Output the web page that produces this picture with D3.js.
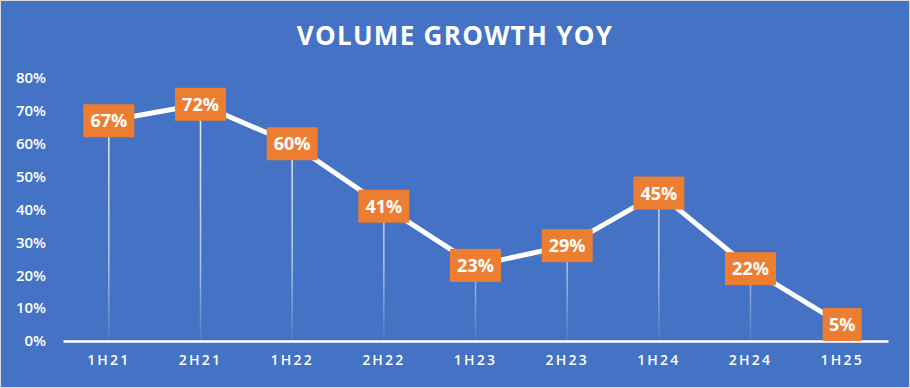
<!DOCTYPE html>
<html>
<head>
<meta charset="utf-8">
<script src="https://cdn.jsdelivr.net/npm/d3@7"></script>
<style>
	body { margin: 0; background: #fff; }
	text { font-family: "Open Sans", "Noto Sans", sans-serif; fill: #fff; }
</style>
</head>
<body>
<svg id="chart"></svg>
<script>
// DATA

var periods = ["1H21", "2H21", "1H22", "2H22", "1H23", "2H23", "1H24", "2H24", "1H25"];
var growth = [67, 72, 60, 41, 23, 29, 45, 22, 5];
var yTicks = [0, 10, 20, 30, 40, 50, 60, 70, 80];

// DIMENSIONS

var width = 910,
	height = 388,
	plotLeft = 63,
	plotRight = 888,
	plotTop = 78,
	plotBottom = 341;

var svg = d3.select("#chart")
	.attr('width', width)
	.attr('height', height);

svg.append('rect')
	.attr('x', 0.5).attr('y', 0.5)
	.attr('width', width - 1).attr('height', height - 1)
	.style('fill', '#4472c4')
	.style('stroke', '#d9d9d9');

// fading drop line
var grad = svg.append('defs').append('linearGradient')
	.attr('id', 'fade')
	.attr('gradientUnits', 'userSpaceOnUse')
	.attr('x1', 0).attr('x2', 0)
	.attr('y1', plotTop).attr('y2', plotBottom);
grad.append('stop').attr('offset', '0%').attr('stop-color', '#fff').attr('stop-opacity', 0.95);
grad.append('stop').attr('offset', '70%').attr('stop-color', '#fff').attr('stop-opacity', 0.6);
grad.append('stop').attr('offset', '100%').attr('stop-color', '#fff').attr('stop-opacity', 0.05);

// SCALES

var xScale = d3.scaleBand()
	.domain(periods)
	.range([plotLeft, plotRight]);

var yScale = d3.scaleLinear()
	.domain([0, 80])
	.range([plotBottom, plotTop]);

function cx(d) { return xScale(d) + xScale.bandwidth() / 2; }

// title
svg.append('text')
	.attr('x', width / 2)
	.attr('y', 45)
	.attr('text-anchor', 'middle')
	.style('font-size', '26px')
	.style('font-weight', 'bold')
	.style('letter-spacing', '1.3px')
	.text("VOLUME GROWTH YOY");

// y axis
var yAxis = d3.axisLeft(yScale)
	.tickValues(yTicks)
	.tickSize(0)
	.tickPadding(0)
	.tickFormat(function(d) { return d + "%"; });

var yG = svg.append('g')
	.attr('transform', 'translate(46,0)')
	.call(yAxis);
yG.select('.domain').remove();
yG.selectAll('text')
	.style('fill', '#fff')
	.style('font-size', '15px')
	.style('font-weight', '600');

// drop lines
svg.selectAll('.drop').data(growth)
	.enter().append('line')
	.attr('class', 'drop')
	.attr('x1', function(d, i) { return cx(periods[i]); })
	.attr('x2', function(d, i) { return cx(periods[i]); })
	.attr('y1', function(d) { return yScale(d); })
	.attr('y2', plotBottom)
	.style('stroke', 'url(#fade)')
	.style('stroke-width', 1.5);

// x axis
var xAxis = d3.axisBottom(xScale)
	.tickSize(0)
	.tickPadding(14);

var xG = svg.append('g')
	.attr('transform', 'translate(0,' + plotBottom + ')')
	.call(xAxis);
xG.select('.domain')
	.style('stroke', '#fff')
	.style('stroke-width', 2.5);
xG.selectAll('text')
	.style('fill', '#fff')
	.style('font-size', '14px')
	.style('font-weight', '600')
	.style('letter-spacing', '2.2px');

// line
var line = d3.line()
	.x(function(d, i) { return cx(periods[i]); })
	.y(function(d) { return yScale(d); });

svg.append('path')
	.datum(growth)
	.attr('d', line)
	.style('fill', 'none')
	.style('stroke', '#fff')
	.style('stroke-width', 5)
	.style('stroke-linejoin', 'round');

// labels
var labels = svg.selectAll('.lbl').data(growth)
	.enter().append('g')
	.attr('class', 'lbl')
	.attr('transform', function(d, i) {
		return 'translate(' + cx(periods[i]) + ',' + yScale(d) + ')';
	});

labels.append('rect')
	.attr('x', function(d) { return d < 10 ? -19.5 : -25.5; })
	.attr('y', -16.5)
	.attr('width', function(d) { return d < 10 ? 39 : 51; })
	.attr('height', 33)
	.style('fill', '#ed7d31');

labels.append('text')
	.attr('text-anchor', 'middle')
	.attr('dy', '0.36em')
	.style('font-size', '18px')
	.style('font-weight', 'bold')
	.text(function(d) { return d + "%"; });
</script>
</body>
</html>
